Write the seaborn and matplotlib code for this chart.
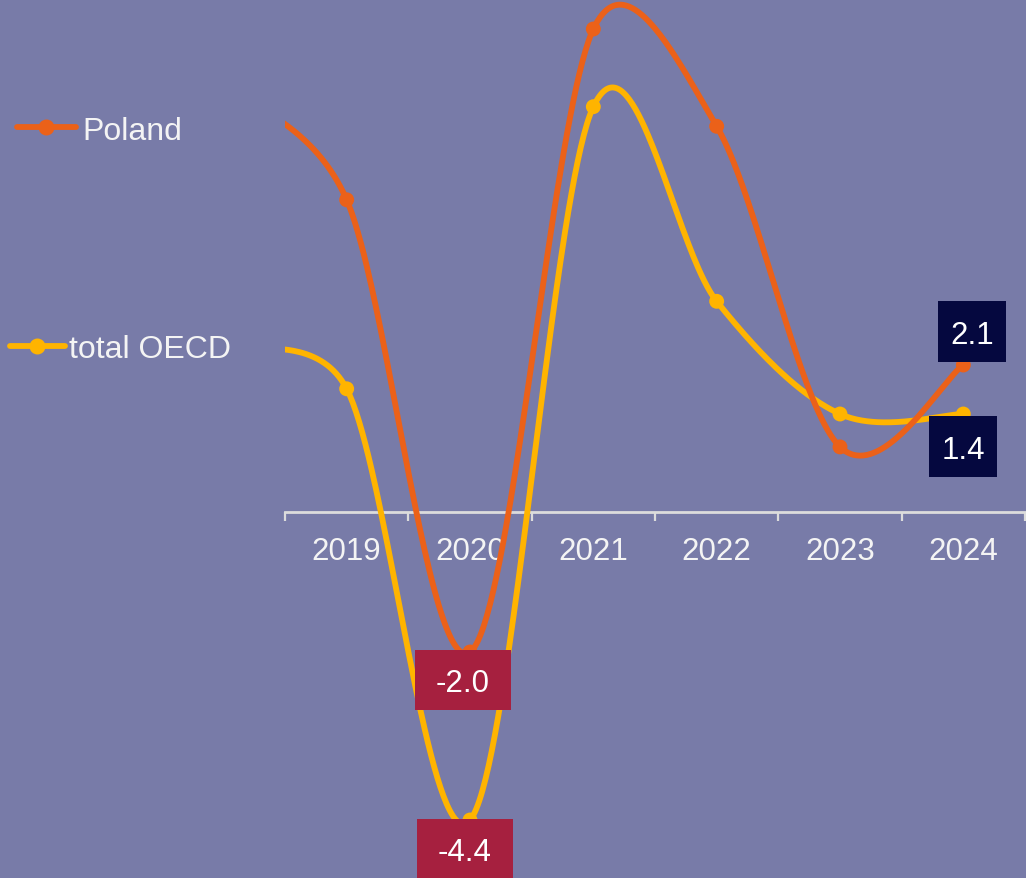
import numpy as np
import pandas as pd
import matplotlib
matplotlib.use("Agg")
import matplotlib.pyplot as plt
from matplotlib.patches import Rectangle
from matplotlib.lines import Line2D
import seaborn as sns

# GDP growth, % (2018 lies just left of the visible range)
years = [2018, 2019, 2020, 2021, 2022, 2023, 2024]
poland = [6.1, 4.46, -2.0, 6.9, 5.51, 0.93, 2.1]
oecd = [2.35, 1.76, -4.4, 5.79, 3.01, 1.4, 1.4]
tick_years = [2019, 2020, 2021, 2022, 2023, 2024]
series_names = ["Poland", "total OECD"]

BG = "#787BA8"
C_POL = "#EB6119"
C_OECD = "#FFB400"
NAVY = "#05083F"
CRIMSON = "#A6203F"
AXIS = "#DCDCDC"
FONT = ["Liberation Sans", "DejaVu Sans"]

sns.set_style("white", {"axes.facecolor": BG, "figure.facecolor": BG})
plt.rcParams["font.family"] = FONT

W, H = 1026, 879
ax_left, ax_right = 285, 1025
x_lo, x_hi = 2018.5, 2024.5
zero_px, px_per_unit = 513, 70.0
px_per_year = (ax_right - ax_left) / (x_hi - x_lo)


def smooth_curve(xs, ys, n=80):
    """Smoothed line as cubic Beziers; tangents follow the neighbouring points and
    each control arm is limited to half of its segment (measured on screen)."""
    sx = np.asarray(xs, float) * px_per_year
    sy = np.asarray(ys, float) * px_per_unit
    P = np.column_stack([sx, sy])
    P = np.vstack([P[0], P, P[-1]])
    t = np.linspace(0, 1, n)[:, None]
    out = []
    for i in range(1, len(P) - 2):
        p0, p1, p2, p3 = P[i - 1], P[i], P[i + 1], P[i + 2]
        seg = np.linalg.norm(p2 - p1)
        v1 = (p2 - p0) / 6
        v2 = (p3 - p1) / 6
        for v in (v1, v2):
            L = np.linalg.norm(v)
            if L > seg / 2:
                v *= (seg / 2) / L
        c1, c2 = p1 + v1, p2 - v2
        b = (1 - t) ** 3 * p1 + 3 * (1 - t) ** 2 * t * c1 + 3 * (1 - t) * t ** 2 * c2 + t ** 3 * p2
        out.append(b)
    pts = np.vstack(out)
    return pts[:, 0] / px_per_year, pts[:, 1] / px_per_unit


fig = plt.figure(figsize=(W / 100, H / 100), dpi=100)
ax = fig.add_axes([ax_left / W, 0, (ax_right - ax_left) / W, 1])

y_hi = zero_px / px_per_unit
y_lo = -(H - zero_px) / px_per_unit
ax.set_xlim(x_lo, x_hi)
ax.set_ylim(y_lo, y_hi)

lw = 4.2
for vals, color, z in [(oecd, C_OECD, 3), (poland, C_POL, 4)]:
    sx, sy = smooth_curve(years, vals)
    curve = pd.DataFrame({"year": sx, "value": sy})
    sns.lineplot(data=curve, x="year", y="value", ax=ax, color=color, linewidth=lw,
                 sort=False, estimator=None, zorder=z, solid_capstyle="round")
    pts = pd.DataFrame({"year": years, "value": vals})
    sns.scatterplot(data=pts, x="year", y="value", ax=ax, color=color, s=115,
                    edgecolor="none", zorder=z + 0.5)

# Category axis through zero, ticks between categories
for s in ["left", "right", "top"]:
    ax.spines[s].set_visible(False)
ax.spines["bottom"].set_position(("data", 0))
ax.spines["bottom"].set_color(AXIS)
ax.spines["bottom"].set_linewidth(2.0)
ax.spines["bottom"].set_zorder(2)
ax.set_yticks([])
ax.set_xticks(tick_years)
ax.set_xticklabels([str(y) for y in tick_years])
ax.set_xticks(np.arange(x_lo, x_hi + 0.01, 1.0), minor=True)
ax.tick_params(axis="x", which="major", bottom=True, length=0, pad=17, labelsize=22.5,
               labelcolor="#F4F4F4")
ax.tick_params(axis="x", which="minor", bottom=True, length=6.2, width=1.6, color=AXIS,
               direction="out")
ax.set_xlabel("")
ax.set_ylabel("")
if ax.get_legend():
    ax.get_legend().remove()

# Value callouts
callouts = [
    (2024, poland[-1], NAVY, 9, 33.5, 68, 61),
    (2024, oecd[-1], NAVY, 0, -32.5, 68, 61),
    (2020, poland[2], CRIMSON, -7, -28, 96, 60),
    (2020, oecd[2], CRIMSON, -5, -29, 96, 60),
]
for x, v, fc, dx, dy, w, h in callouts:
    cx = x + dx / px_per_year
    cy = v + dy / px_per_unit
    ax.add_patch(Rectangle((cx - w / 2 / px_per_year, cy - h / 2 / px_per_unit),
                           w / px_per_year, h / px_per_unit,
                           facecolor=fc, edgecolor="none", zorder=10, clip_on=False))
    ax.text(cx, cy, f"{v:.1f}", color="white", fontsize=22.5, ha="center",
            va="center_baseline", zorder=11, clip_on=False)

# Series key on the left
for (name, color, y, x0, x1, xm, xt) in [
    (series_names[0], C_POL, 128, 17, 76, 46, 82),
    (series_names[1], C_OECD, 347, 10, 65, 37, 69),
]:
    fy = 1 - y / H
    fig.add_artist(Line2D([x0 / W, x1 / W], [fy, fy], color=color, linewidth=lw,
                          transform=fig.transFigure))
    fig.add_artist(Line2D([xm / W], [fy], color=color, marker="o", markersize=11.5,
                          markeredgewidth=0, transform=fig.transFigure))
    fig.text(xt / W, fy, name, color="#F4F4F4", fontsize=23, ha="left", va="center_baseline")

fig.savefig("out.png", dpi=100, facecolor=BG)
